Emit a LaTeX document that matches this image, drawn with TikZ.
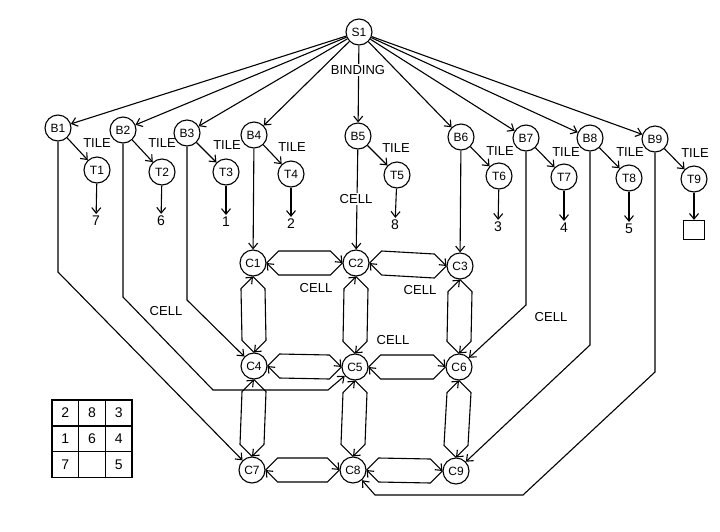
\documentclass[tikz,border=0pt]{standalone}
\usepackage{fontspec}
\setmainfont{Liberation Sans}
\usetikzlibrary{arrows.meta}

\begin{document}
\begin{tikzpicture}[x=1pt, y=-1pt,
        state/.style={draw, circle, minimum size=26pt, inner sep=0pt, line width=1.1pt, font=\fontsize{12}{14}\selectfont},
        lbl/.style={inner sep=1pt, font=\fontsize{13}{15}\selectfont},
        val/.style={inner sep=2pt, font=\fontsize{14}{16}\selectfont},
        cell/.style={draw, line width=1.4pt, minimum width=26.7pt, minimum height=25.7pt, inner sep=0pt, font=\fontsize{14}{16}\selectfont},
        arrow/.style={line width=1.1pt, -{Straight Barb[length=5.5pt, width=9pt]}},
        goright/.style={to path={-- ([shift={(12,-12)}]\tikztostart) -- ([shift={(-12,-12)}]\tikztotarget) -- (\tikztotarget)}},
        goleft/.style={to path={-- ([shift={(-12,12)}]\tikztostart) -- ([shift={(12,12)}]\tikztotarget) -- (\tikztotarget)}},
        goup/.style={to path={-- ([shift={(-12,-12)}]\tikztostart) -- ([shift={(-12,12)}]\tikztotarget) -- (\tikztotarget)}},
        godown/.style={to path={-- ([shift={(12,12)}]\tikztostart) -- ([shift={(12,-12)}]\tikztotarget) -- (\tikztotarget)}}
    ]
        \useasboundingbox (0,0) rectangle (720,531);

        % Start
        \node[state] (S1) at (359,32) {S1};

        % Bindings
        \node[state] (B1) at (58,128) {B1};
        \node[state] (B2) at (123,130) {B2};
        \node[state] (B3) at (187,133) {B3};
        \node[state] (B4) at (254,135) {B4};
        \node[state] (B5) at (358,136) {B5};
        \node[state] (B6) at (461,137) {B6};
        \node[state] (B7) at (526,138) {B7};
        \node[state] (B8) at (590,138) {B8};
        \node[state] (B9) at (655,139) {B9};

        % Tiles
        \node[state] (T1) at (97,170) {T1};
        \node[state] (T2) at (162,172) {T2};
        \node[state] (T3) at (226,172) {T3};
        \node[state] (T4) at (291,174) {T4};
        \node[state] (T5) at (397,175) {T5};
        \node[state] (T6) at (499,176) {T6};
        \node[state] (T7) at (564,177) {T7};
        \node[state] (T8) at (629,178) {T8};
        \node[state] (T9) at (694,179) {T9};

        % Tile values
        \node[val] (v1) at (96,221) {7};
        \node[val] (v2) at (161,221) {6};
        \node[val] (v3) at (226,222) {1};
        \node[val] (v4) at (291,224) {2};
        \node[val] (v5) at (395,225) {8};
        \node[val] (v6) at (498,227) {3};
        \node[val] (v7) at (564,228) {4};
        \node[val] (v8) at (629,229) {5};
        \node[draw, line width=1.3pt, minimum width=21pt, minimum height=19pt] (v9) at (694,230) {};

        % Cells
        \node[state] (C1) at (253,263) {C1};
        \node[state] (C2) at (356,263) {C2};
        \node[state] (C3) at (460,266) {C3};
        \node[state] (C4) at (254,366) {C4};
        \node[state] (C5) at (355,367) {C5};
        \node[state] (C6) at (459,367) {C6};
        \node[state] (C7) at (252,470) {C7};
        \node[state] (C8) at (353,470) {C8};
        \node[state] (C9) at (456,471) {C9};

        % Board
        \node[cell] (g1) at (65.3,413) {2};
        \node[cell] (g2) at (92,413) {8};
        \node[cell] (g3) at (118.7,413) {3};
        \node[cell] (g4) at (65.3,438.7) {1};
        \node[cell] (g5) at (92,438.7) {6};
        \node[cell] (g6) at (118.7,438.7) {4};
        \node[cell] (g7) at (65.3,464.4) {7};
        \node[cell] (g8) at (92,464.4) {};
        \node[cell] (g9) at (118.7,464.4) {5};

        % Binding arcs
        \draw[arrow] (S1) -- (B1);
        \draw[arrow] (S1) -- (B2);
        \draw[arrow] (S1) -- (B3);
        \draw[arrow] (S1) -- (B4);
        \draw[arrow] (S1) -- (B5);
        \draw[arrow] (S1) -- (B6);
        \draw[arrow] (S1) -- (B7);
        \draw[arrow] (S1) -- (B8);
        \draw[arrow] (S1) -- (B9);
        \node[lbl, fill=white] (bind) at (358,70) {BINDING};

        % Tile arcs
        \draw[arrow] (B1) -- (T1);
        \draw[arrow] (B2) -- (T2);
        \draw[arrow] (B3) -- (T3);
        \draw[arrow] (B4) -- (T4);
        \draw[arrow] (B5) -- (T5);
        \draw[arrow] (B6) -- (T6);
        \draw[arrow] (B7) -- (T7);
        \draw[arrow] (B8) -- (T8);
        \draw[arrow] (B9) -- (T9);
        \node[lbl] (tile1) at (97,143) {TILE};
        \node[lbl] (tile2) at (162,143) {TILE};
        \node[lbl] (tile3) at (227,145) {TILE};
        \node[lbl] (tile4) at (292,147) {TILE};
        \node[lbl] (tile5) at (396,148) {TILE};
        \node[lbl] (tile6) at (500,151) {TILE};
        \node[lbl] (tile7) at (566,152) {TILE};
        \node[lbl] (tile8) at (630,152) {TILE};
        \node[lbl] (tile9) at (695,153) {TILE};

        \draw[arrow] (T1) -- (v1);
        \draw[arrow] (T2) -- (v2);
        \draw[arrow] (T3) -- (v3);
        \draw[arrow] (T4) -- (v4);
        \draw[arrow] (T5) -- (v5);
        \draw[arrow] (T6) -- (v6);
        \draw[arrow] (T7) -- (v7);
        \draw[arrow] (T8) -- (v8);
        \draw[arrow] (T9) -- (v9);

        % Cell arcs from bindings
        \coordinate (k1) at (58,272);
        \coordinate (k2) at (123,297);
        \coordinate (k2b) at (213,390);
        \coordinate (k2c) at (328,390);
        \coordinate (k3) at (187,300);
        \coordinate (k7) at (526,305);
        \coordinate (k8) at (590,345);
        \coordinate (k9) at (655,372);
        \coordinate (k9b) at (523,495);
        \coordinate (k9c) at (375,495);

        \draw[arrow] (B1) -- (k1) -- (C7);
        \draw[arrow] (B2) -- (k2) -- (k2b) -- (k2c) -- (C5);
        \draw[arrow] (B3) -- (k3) -- (C4);
        \draw[arrow] (B4) -- (C1);
        \draw[arrow] (B5) -- (C2);
        \draw[arrow] (B6) -- (C3);
        \draw[arrow] (B7) -- (k7) -- (C6);
        \draw[arrow] (B8) -- (k8) -- (C9);
        \draw[arrow] (B9) -- (k9) -- (k9b) -- (k9c) -- (C8);
        \node[lbl, fill=white] (cell1) at (356,199) {CELL};

        % Neighbour cells
        \draw[arrow] (C1.east) to[goright] (C2.west);
        \draw[arrow] (C2.west) to[goleft] (C1.east);
        \draw[arrow] (C2.east) to[goright] (C3.west);
        \draw[arrow] (C3.west) to[goleft] (C2.east);
        \draw[arrow] (C4.east) to[goright] (C5.west);
        \draw[arrow] (C5.west) to[goleft] (C4.east);
        \draw[arrow] (C5.east) to[goright] (C6.west);
        \draw[arrow] (C6.west) to[goleft] (C5.east);
        \draw[arrow] (C7.east) to[goright] (C8.west);
        \draw[arrow] (C8.west) to[goleft] (C7.east);
        \draw[arrow] (C8.east) to[goright] (C9.west);
        \draw[arrow] (C9.west) to[goleft] (C8.east);

        \draw[arrow] (C4.north) to[goup] (C1.south);
        \draw[arrow] (C1.south) to[godown] (C4.north);
        \draw[arrow] (C7.north) to[goup] (C4.south);
        \draw[arrow] (C4.south) to[godown] (C7.north);
        \draw[arrow] (C5.north) to[goup] (C2.south);
        \draw[arrow] (C2.south) to[godown] (C5.north);
        \draw[arrow] (C8.north) to[goup] (C5.south);
        \draw[arrow] (C5.south) to[godown] (C8.north);
        \draw[arrow] (C6.north) to[goup] (C3.south);
        \draw[arrow] (C3.south) to[godown] (C6.north);
        \draw[arrow] (C9.north) to[goup] (C6.south);
        \draw[arrow] (C6.south) to[godown] (C9.north);

        \node[lbl] (cell2) at (166,311) {CELL};
        \node[lbl] (cell3) at (316,288) {CELL};
        \node[lbl] (cell4) at (420,290) {CELL};
        \node[lbl] (cell5) at (393,340) {CELL};
        \node[lbl] (cell6) at (551,317) {CELL};

    \end{tikzpicture}
\end{document}
